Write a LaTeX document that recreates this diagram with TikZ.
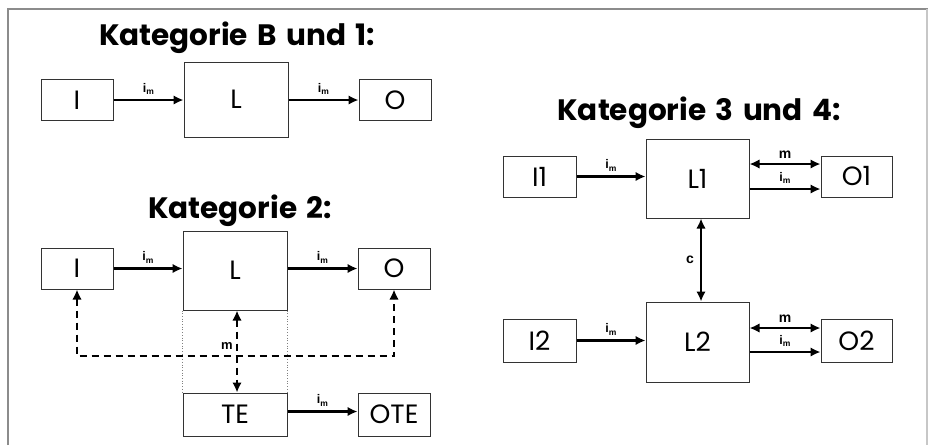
\documentclass[tikz,border=0pt]{standalone}
\usepackage{fontspec}
\usetikzlibrary{arrows.meta,calc}
\newfontfamily\geofont{Poppins}[WordSpace=1.5]
\newfontfamily\arialfont{Liberation Sans}
\newcommand{\imlab}{{\arialfont\bfseries\fontsize{12.5}{12.5}\selectfont i\raisebox{-2.2pt}{\fontsize{8.5}{8.5}\selectfont m}}}
\begin{document}
\begin{tikzpicture}[x=1pt,y=-1pt,
  blk/.style={draw=black!80, line width=1pt, rectangle, inner sep=0pt,
    font=\geofont\fontsize{26.5}{26.5}\selectfont},
  small/.style={blk, minimum width=72pt, minimum height=41pt},
  big/.style={blk, minimum width=104pt, minimum height=78pt},
  ttl/.style={font=\geofont\bfseries\fontsize{29.5}{29.5}\selectfont, anchor=base, inner sep=0pt},
  lbl/.style={font=\arialfont\bfseries\fontsize{14}{14}\selectfont, inner sep=1pt},
  arr/.style={line width=2.1pt, -{Latex[length=10pt,width=9.5pt]}},
  darr/.style={line width=2.1pt, {Latex[length=10pt,width=9.5pt]}-{Latex[length=10pt,width=9.5pt]}},
  dasharr/.style={darr, dash pattern=on 7pt off 5pt},
  dotline/.style={gray, line width=0.7pt, dotted}]
\useasboundingbox (0,0) rectangle (928,445);
% page frame
\draw[black!45, line width=1.2pt] (8,445) -- (8,9) -- (928,9);
\draw[black!22, line width=1.2pt] (927,9) -- (927,445);

% ---- Kategorie B und 1
\node[ttl] (t1) at (237,45) {Kategorie B und 1:};
\node[small] (bI) at (77,100) {I};
\node[big, minimum height=75pt] (bL) at (236,99.5) {L};
\node[small] (bO) at (395,100) {O};
\draw[arr] (bI.east) -- (bI.east -| bL.west) node[midway, above=1pt] {\imlab};
\draw[arr] (bL.east |- bO.west) -- (bO.west) node[midway, above=1pt] {\imlab};

% ---- Kategorie 2
\node[ttl] (t2) at (240,218) {Kategorie 2:};
\node[small] (cI) at (77,268.5) {I};
\node[big, minimum height=79pt] (cL) at (235,270.5) {L};
\node[small] (cO) at (394,268.5) {O};
\node[small, minimum width=104pt, minimum height=43pt] (cTE) at (235,414.5) {TE};
\node[small, minimum height=43pt] (cOTE) at (394,414.5) {OTE};
\draw[arr] (cI.east) -- (cI.east -| cL.west) node[midway, above=1pt] {\imlab};
\draw[arr] (cL.east |- cO.west) -- (cO.west) node[midway, above=1pt] {\imlab};
\draw[arr] ([yshift=3pt]cTE.east) -- ([yshift=3pt]cOTE.west) node[midway, above=1pt] {\imlab};
\draw[dotline] (cL.south west) -- (cTE.north west);
\draw[dotline] (cL.south east) -- (cTE.north east);
\draw[dasharr] (cI.south) -- ++(0,66.5) -| (cO.south);
\draw[dasharr] ([xshift=2pt]cL.south) -- ([xshift=2pt]cTE.north);
\node[lbl, font=\arialfont\bfseries\fontsize{13}{13}\selectfont] (cm) at (227,346) {m};

% ---- Kategorie 3 und 4
\node[ttl] (t3) at (699,120) {Kategorie 3 und 4:};
\node[small, minimum width=73pt] (I1) at (539.5,176.5) {I1};
\node[big, minimum width=103pt, minimum height=79pt] (L1) at (697.5,178.5) {L1};
\node[small, minimum width=71pt] (O1) at (856.5,176.5) {O1};
\node[small, minimum width=73pt, minimum height=43pt] (I2) at (539.5,340.5) {I2};
\node[big, minimum width=103pt, minimum height=80pt] (L2) at (697.5,342) {L2};
\node[small, minimum width=71pt, minimum height=43pt] (O2) at (856.5,340.5) {O2};

\draw[arr] (I1.east) -- (I1.east -| L1.west) node[midway, above=1pt] {\imlab};
\draw[darr] ([yshift=12.5pt]O1.west -| L1.east) -- ([yshift=12.5pt]O1.west) node[lbl, midway, above=3pt] {m};
\draw[arr] ([yshift=-12.5pt]O1.west -| L1.east) -- ([yshift=-12.5pt]O1.west) node[midway, above=1pt] {\imlab};

\draw[arr] (I2.east) -- (I2.east -| L2.west) node[midway, above=1pt] {\imlab};
\draw[darr] ([yshift=12.5pt]O2.west -| L2.east) -- ([yshift=12.5pt]O2.west) node[lbl, midway, above=3pt] {m};
\draw[arr] ([yshift=-11.5pt]O2.west -| L2.east) -- ([yshift=-11.5pt]O2.west) node[midway, above=1pt] {\imlab};

\draw[darr] ([xshift=3.5pt]L1.south) -- ([xshift=3.5pt]L2.north) node[lbl, midway, left=5pt] {c};
\end{tikzpicture}
\end{document}
